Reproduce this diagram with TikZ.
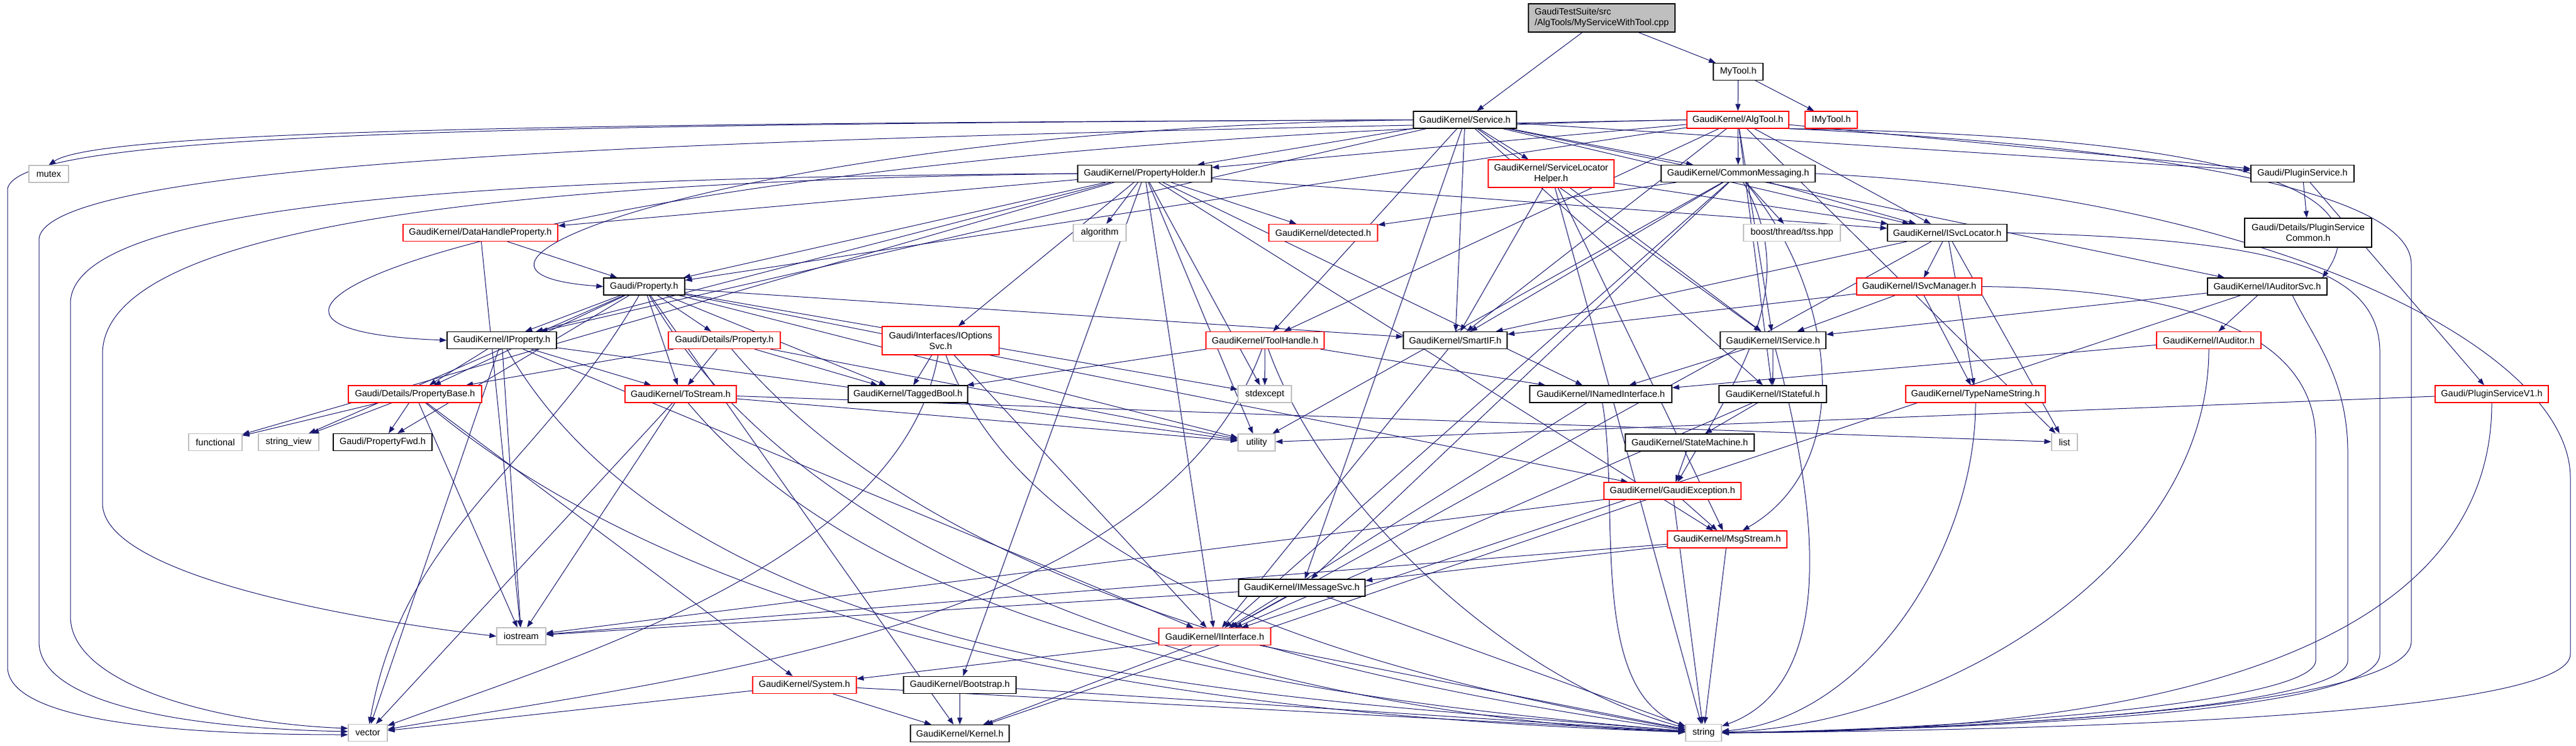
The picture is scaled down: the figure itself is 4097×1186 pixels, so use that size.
\documentclass[tikz,border=0pt]{standalone}
\usepackage{fontspec}
\setmainfont{Liberation Sans}
\usetikzlibrary{arrows.meta}
\definecolor{depblue}{HTML}{191970}
\definecolor{truncred}{HTML}{FF0000}
\definecolor{leafgray}{HTML}{BFBFBF}
\definecolor{srcgray}{HTML}{BFBFBF}
\pgfdeclarelayer{edges}
\pgfsetlayers{edges,main}
\newdimen\pxu
\pxu=0.25pt

\begin{document}
\begin{tikzpicture}[
    x=0.25pt, y=-0.25pt,
    box/.style={
        draw=black,
        fill=white,
        line width=0.3pt,
        inner xsep=1.5pt,
        inner ysep=0.5pt,
        minimum height=27\pxu,
        font=\fontsize{3.625}{4.25}\selectfont,
        align=center
      },
    trunc/.style={box, draw=truncred},
    leaf/.style={box, draw=leafgray},
    dep/.style={draw=depblue, line width=0.25pt, -{Triangle[length=2.75pt,width=2pt]}},
    every edge/.style={dep}
    ]

    \useasboundingbox (0,0) rectangle (4097,1186);

    % ============= SOURCE ==================

    % -------------------------------
    \node[box, fill=srcgray, align=left, minimum width=233\pxu, minimum height=45\pxu] (cpp) at (2547.5,28.5)
      {GaudiTestSuite/src\\/AlgTools/MyServiceWithTool.cpp};
    \node[box, minimum width=79\pxu] (MyTool) at (2764.5,114) {MyTool.h};
    % -------------------------------

    % ============= DIRECT INCLUDES ==================

    % -------------------------------
    \node[box, minimum width=164\pxu] (Service) at (2330,190.5) {GaudiKernel/Service.h};
    \node[trunc, minimum width=162\pxu] (AlgTool) at (2764,190.5) {GaudiKernel/AlgTool.h};
    \node[trunc, minimum width=83\pxu] (IMyTool) at (2912.5,190.5) {IMyTool.h};
    % -------------------------------

    % -------------------------------
    \node[leaf, minimum width=63\pxu] (mutex) at (77.5,276.5) {mutex};
    \node[box, minimum width=213\pxu] (PropHolder) at (1820.5,276) {GaudiKernel/PropertyHolder.h};
    \node[trunc, minimum width=200\pxu, minimum height=44\pxu] (SLH) at (2467,276) {GaudiKernel/ServiceLocator\\Helper.h};
    \node[box, minimum width=245\pxu] (CommonMsg) at (2764.5,276) {GaudiKernel/CommonMessaging.h};
    \node[box, minimum width=164\pxu] (PluginSvc) at (3662,276) {Gaudi/PluginService.h};
    % -------------------------------

    % -------------------------------
    \node[trunc, minimum width=246\pxu] (DHP) at (764,370) {GaudiKernel/DataHandleProperty.h};
    \node[leaf, minimum width=84\pxu] (algorithm) at (1749,370) {algorithm};
    \node[trunc, minimum width=173\pxu] (detected) at (2104.5,370) {GaudiKernel/detected.h};
    \node[leaf, minimum width=154\pxu] (tss) at (2850,370) {boost/thread/tss.hpp};
    \node[box, minimum width=190\pxu] (ISvcLocator) at (3097,370) {GaudiKernel/ISvcLocator.h};
    \node[box, minimum width=202\pxu, minimum height=46\pxu] (PSCommon) at (3671,370) {Gaudi/Details/PluginService\\Common.h};
    % -------------------------------

    % ============= PROPERTIES AND INTERFACES ==================

    % -------------------------------
    \node[box, minimum width=129\pxu] (Property) at (1024.5,455.5) {Gaudi/Property.h};
    \node[trunc, minimum width=199\pxu] (ISvcManager) at (3052.5,455.5) {GaudiKernel/ISvcManager.h};
    \node[box, minimum width=190\pxu] (IAuditorSvc) at (3606,455.5) {GaudiKernel/IAuditorSvc.h};
    % -------------------------------

    % -------------------------------
    \node[box, minimum width=174\pxu] (IProperty) at (798,541) {GaudiKernel/IProperty.h};
    \node[trunc, minimum width=178\pxu] (DetProperty) at (1152,541) {Gaudi/Details/Property.h};
    \node[trunc, minimum width=186\pxu, minimum height=45\pxu] (IOptionsSvc) at (1496,541.5) {Gaudi/Interfaces/IOptions\\Svc.h};
    \node[trunc, minimum width=188\pxu] (ToolHandle) at (2012,541) {GaudiKernel/ToolHandle.h};
    \node[box, minimum width=165\pxu] (SmartIF) at (2314.5,541) {GaudiKernel/SmartIF.h};
    \node[box, minimum width=168\pxu] (IService) at (2820,541) {GaudiKernel/IService.h};
    \node[trunc, minimum width=166\pxu] (IAuditor) at (3513,541) {GaudiKernel/IAuditor.h};
    % -------------------------------

    % -------------------------------
    \node[trunc, minimum width=212\pxu] (PropBase) at (660,626.5) {Gaudi/Details/PropertyBase.h};
    \node[trunc, minimum width=177\pxu] (ToStream) at (1082.5,626.5) {GaudiKernel/ToStream.h};
    \node[box, minimum width=190\pxu] (TaggedBool) at (1444,626.5) {GaudiKernel/TaggedBool.h};
    \node[leaf, minimum width=85\pxu] (stdexcept) at (2011.5,626.5) {stdexcept};
    \node[box, minimum width=226\pxu] (INamed) at (2546,626.5) {GaudiKernel/INamedInterface.h};
    \node[box, minimum width=171\pxu] (IStateful) at (2819.5,626.5) {GaudiKernel/IStateful.h};
    \node[trunc, minimum width=222\pxu] (TypeName) at (3142,626.5) {GaudiKernel/TypeNameString.h};
    \node[trunc, minimum width=180\pxu] (PSV1) at (3963,626.5) {Gaudi/PluginServiceV1.h};
    % -------------------------------

    % -------------------------------
    \node[leaf, minimum width=85\pxu] (functional) at (342.5,703) {functional};
    \node[leaf, minimum width=96\pxu] (stringview) at (459,703) {string\_view};
    \node[box, minimum width=157\pxu] (PropFwd) at (608.5,703) {Gaudi/PropertyFwd.h};
    \node[leaf, minimum width=59\pxu] (utility) at (1998.5,703.5) {utility};
    \node[box, minimum width=205\pxu] (StateMachine) at (2687.5,703.5) {GaudiKernel/StateMachine.h};
    \node[leaf, minimum width=41\pxu] (list) at (3283.5,703) {list};
    % -------------------------------

    % ============= KERNEL ==================

    % -------------------------------
    \node[trunc, minimum width=218\pxu] (GaudiExc) at (2660,780.5) {GaudiKernel/GaudiException.h};
    \node[trunc, minimum width=190\pxu] (MsgStream) at (2747,857.5) {GaudiKernel/MsgStream.h};
    \node[box, minimum width=201\pxu] (IMessageSvc) at (2070.5,934.5) {GaudiKernel/IMessageSvc.h};
    \node[leaf, minimum width=78\pxu] (iostream) at (829,1011.5) {iostream};
    \node[trunc, minimum width=178\pxu] (IInterface) at (1932,1012) {GaudiKernel/IInterface.h};
    \node[trunc, minimum width=165\pxu] (System) at (1279.5,1089) {GaudiKernel/System.h};
    \node[box, minimum width=179\pxu] (Bootstrap) at (1526.5,1089) {GaudiKernel/Bootstrap.h};
    \node[box, minimum width=157\pxu] (Kernel) at (1526.5,1166) {GaudiKernel/Kernel.h};
    \node[leaf, minimum width=62\pxu] (vector) at (585,1165) {vector};
    \node[leaf, minimum width=57\pxu] (string) at (2709.5,1165) {string};
    % -------------------------------

    % ============= LIGNES ==================
    \begin{pgfonlayer}{edges}

    % top
    \path (cpp) edge (Service) edge (MyTool);
    \path (MyTool) edge (AlgTool) edge (IMyTool);

    % Service.h
    \draw[dep] (Service.west) .. controls (1000,196) and (160,205) .. (mutex.north);
    \draw[dep] (Service.west) .. controls (700,198) and (30,215) .. (12,300) -- (12,1060)
      .. controls (12,1150) and (300,1168) .. ([yshift=-0.75pt]vector.west);
    \draw[dep] (Service.west) .. controls (1200,205) and (600,430) .. (Property.west);
    \path (Service) edge (PropHolder) edge (SLH) edge (CommonMsg) edge (PluginSvc)
      edge (ISvcLocator) edge (IAuditorSvc) edge (IService) edge (IStateful)
      edge (IProperty) edge (SmartIF) edge (ToolHandle) edge (IMessageSvc);

    % AlgTool.h
    \draw[dep] (AlgTool.west) .. controls (1400,215) and (75,240) .. (62,380) -- (62,1020)
      .. controls (62,1120) and (300,1158) .. ([yshift=0.5pt]vector.west);
    \draw[dep] (AlgTool.west) .. controls (900,225) and (150,520) .. (IProperty.west);
    \draw[dep] (AlgTool.south east) .. controls (3500,215) and (3800,290) .. ([xshift=-2pt]IAuditorSvc.north east);
    \draw[dep] (AlgTool.south east) .. controls (3400,230) and (3835,300) .. (3835,420) -- (3835,1020)
      .. controls (3835,1120) and (3200,1158) .. (string.east);
    \path (AlgTool) edge (PropHolder) edge (CommonMsg) edge (PluginSvc) edge (ISvcLocator)
      edge (IService) edge (IStateful) edge (ToolHandle) edge (SmartIF) edge (list) edge (Property);

    % PropertyHolder.h
    \draw[dep] (PropHolder.west) .. controls (700,282) and (120,330) .. (112,480) -- (112,980)
      .. controls (112,1090) and (350,1150) .. ([yshift=1.75pt]vector.west);
    \draw[dep] (PropHolder.west) .. controls (800,288) and (170,360) .. (163,560) -- (163,800)
      .. controls (163,920) and (600,990) .. (iostream.west);
    \path (PropHolder) edge (DHP) edge (algorithm) edge (detected) edge (Property) edge (IProperty)
      edge (ISvcLocator) edge (IOptionsSvc) edge (INamed) edge (IInterface) edge (Bootstrap)
      edge (MsgStream) edge (functional) edge (stdexcept) edge (utility);

    % ServiceLocatorHelper.h
    \path (SLH) edge (SmartIF) edge (IService) edge (ISvcLocator) edge (MsgStream) edge (string);

    % CommonMessaging.h
    \draw[dep] (CommonMsg.east) .. controls (3600,310) and (4088,550) .. (4088,760) -- (4088,1040)
      .. controls (4088,1130) and (3400,1160) .. (string.east);
    \path (CommonMsg) edge (detected) edge (tss) edge (ISvcLocator) edge (SmartIF)
      edge (IMessageSvc) edge (utility) edge (IInterface)
      edge[out=-50,in=30] (MsgStream) edge[out=-60,in=60] (GaudiExc);

    % PluginService.h
    \path (PluginSvc) edge (PSCommon) edge (PSV1);

    % DataHandleProperty.h
    \path (DHP) edge (Property) edge (iostream);

    % ISvcLocator.h
    \draw[dep] (ISvcLocator.east) .. controls (3600,380) and (3785,420) .. (3785,560) -- (3785,1040)
      .. controls (3785,1130) and (3200,1158) .. (string.east);
    \path (ISvcLocator) edge (ISvcManager) edge (SmartIF) edge (IInterface) edge (TypeName) edge (list);

    % Property.h
    \path (Property) edge (PropBase) edge (DetProperty) edge (IProperty) edge (PropFwd)
      edge (TaggedBool) edge (SmartIF) edge (ToStream) edge (stringview) edge (utility)
      edge (stdexcept) edge (GaudiExc) edge (Kernel)
      edge[out=-120,in=80] (vector) edge[out=-60,in=178,looseness=0.8] (string);

    % ISvcManager.h
    \draw[dep] (ISvcManager.east) .. controls (3500,460) and (3683,540) .. (3683,700) -- (3683,1050)
      .. controls (3683,1120) and (3100,1160) .. (string.east);
    \path (ISvcManager) edge (IService) edge (SmartIF) edge (TypeName);

    % IAuditorSvc.h
    \draw[dep] ([xshift=10pt]IAuditorSvc.south) .. controls (3680,540) and (3734,600) .. (3734,720) -- (3734,1050)
      .. controls (3734,1125) and (3150,1160) .. (string.east);
    \path (IAuditorSvc) edge (IAuditor) edge (IService) edge (IInterface);

    % IProperty.h
    \path (IProperty) edge (PropBase) edge (ToStream) edge (IInterface) edge (iostream)
      edge (utility) edge (vector) edge[out=-60,in=175,looseness=0.8] (string);

    % Details/Property.h
    \path (DetProperty) edge (ToStream) edge (TaggedBool) edge (PropBase) edge (utility)
      edge[out=-50,in=172,looseness=0.8] (string);

    % IOptionsSvc.h
    \path (IOptionsSvc) edge (TaggedBool) edge (IInterface)
      edge[out=-100,in=20,looseness=0.8] (vector)
      edge[out=-70,in=170,looseness=0.8] (string);

    % ToolHandle.h
    \path (ToolHandle) edge (stdexcept) edge (TaggedBool) edge (INamed)
      edge[out=-110,in=10,looseness=0.8] (vector)
      edge[out=-70,in=165,looseness=0.8] (string);

    % interfaces
    \path (SmartIF) edge (IInterface);
    \path (IService) edge (INamed) edge (IStateful) edge[out=-75,in=20,looseness=0.9] (string);
    \path (IAuditor) edge (INamed) edge[out=-90,in=2,looseness=0.9] (string);
    \path (IStateful) edge (IInterface) edge (StateMachine);
    \path (TypeName) edge[out=-90,in=5,looseness=0.9] (string);
    \path (PSV1) edge (utility) edge[out=-90,in=0,looseness=0.9] (string);

    % PropertyBase.h and ToStream.h
    \path (PropBase) edge (functional) edge (stringview) edge (PropFwd) edge (System)
      edge (iostream) edge[out=-40,in=178,looseness=0.8] (string);
    \path (ToStream) edge (iostream) edge (vector) edge (list) edge (utility)
      edge[out=-50,in=175,looseness=0.8] (string);
    \path (INamed) edge (IInterface) edge[out=-80,in=160,looseness=0.8] (string);

    % kernel
    \path (StateMachine) edge (GaudiExc);
    \path (GaudiExc) edge (MsgStream) edge (string) edge (Kernel) edge (iostream);
    \path (MsgStream) edge (IMessageSvc) edge (string) edge (iostream);
    \path (IMessageSvc) edge (IInterface) edge (iostream) edge (string);
    \path (IInterface) edge (System) edge (Kernel) edge (string);
    \path (System) edge (Kernel) edge (string) edge (vector);
    \path (Bootstrap) edge (Kernel) edge (string);

    \end{pgfonlayer}

  \end{tikzpicture}
\end{document}
